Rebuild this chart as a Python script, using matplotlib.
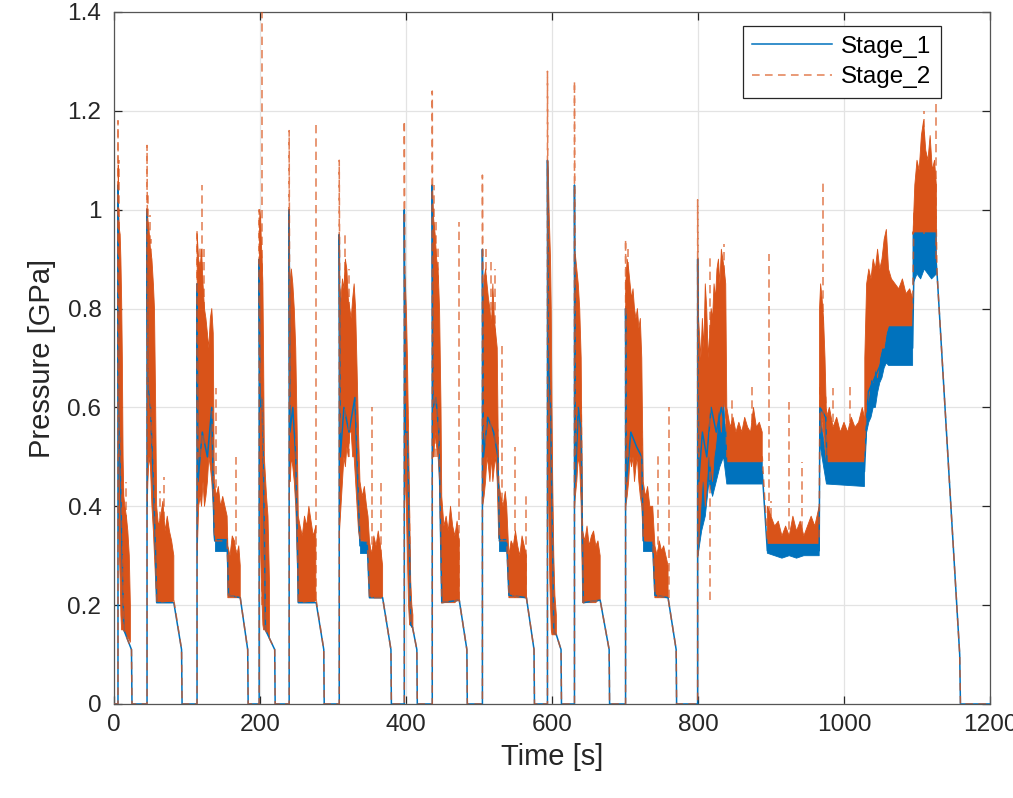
import numpy as np
import matplotlib
matplotlib.use("Agg")
import matplotlib.pyplot as plt

nan = float("nan")

# skeleton of both stages (time, Stage_1, Stage_2), one line per cycle
skel_t = [
    0, 5.5, 5.5, 6.5, 9, 12, 13.5, 24, 24.7,
    45.3, 45.3, 46.5, 50, 54, 57.5, 58.5, 82, 92.6, 93.3,
    113.8, 113.8, 115, 121, 128, 134, 137, 138, 155, 157, 173, 183.2, 183.8,
    198.9, 198.9, 200, 203, 206, 207.5, 220.2, 220.8,
    240, 240, 241, 245, 249, 251.5, 252.5, 277, 287.4, 288,
    308.6, 308.6, 310, 315, 322, 330, 334, 337, 347, 350, 368, 379.4, 380,
    397.7, 397.7, 399, 402, 405, 406.5, 409, 414.9, 415.5,
    436, 436, 437, 441, 445, 448, 449, 473, 483.4, 484,
    504.7, 504.7, 506, 512, 520, 526, 528, 538, 541, 565, 575.4, 576,
    593.8, 593.8, 595, 598, 601, 602.5, 606, 612.4, 613,
    630.8, 630.8, 632, 636, 640, 642, 643, 666, 678.3, 678.9,
    700.8, 700.8, 702, 708, 716, 723, 725, 738, 741, 759, 770.1, 770.7,
    799.5, 799.5, 801, 806, 812, 818, 825, 832, 838, 839.5, 888, 895, 966, 967,
    975, 977, 1028, 1033, 1060, 1094, 1096, 1126, 1127.5, 1158.5, 1159.5, 1200,
]
skel_p1 = [
    0, 0, 1.05, 0.6, 0.45, 0.25, 0.15, 0.11, 0,
    0, 1.0, 0.65, 0.6, 0.45, 0.28, 0.205, 0.205, 0.11, 0,
    0, 0.85, 0.45, 0.55, 0.5, 0.6, 0.35, 0.33, 0.325, 0.22, 0.215, 0.11, 0,
    0, 0.9, 0.6, 0.62, 0.35, 0.15, 0.11, 0,
    0, 1.0, 0.55, 0.6, 0.5, 0.3, 0.205, 0.205, 0.11, 0,
    0, 0.95, 0.5, 0.6, 0.55, 0.62, 0.45, 0.32, 0.32, 0.215, 0.215, 0.11, 0,
    0, 1.0, 0.55, 0.55, 0.3, 0.16, 0.155, 0.11, 0,
    0, 1.05, 0.6, 0.62, 0.55, 0.3, 0.205, 0.21, 0.11, 0,
    0, 0.92, 0.5, 0.58, 0.55, 0.5, 0.33, 0.325, 0.22, 0.215, 0.11, 0,
    0, 1.1, 0.7, 0.6, 0.3, 0.145, 0.14, 0.11, 0,
    0, 1.05, 0.45, 0.6, 0.55, 0.3, 0.205, 0.21, 0.11, 0,
    0, 0.8, 0.45, 0.55, 0.52, 0.5, 0.33, 0.32, 0.22, 0.215, 0.11, 0,
    0, 0.9, 0.45, 0.55, 0.5, 0.6, 0.55, 0.6, 0.55, 0.47, 0.47, 0.31, 0.31, 0.6,
    0.58, 0.47, 0.47, 0.63, 0.72, 0.72, 0.9, 0.9, 0.87, 0.1, 0, 0,
]
skel_p2 = [
    0, 0, 1.18, 0.7, 0.55, 0.3, 0.15, 0.11, 0,
    0, 1.13, 0.7, 0.62, 0.5, 0.3, 0.205, 0.21, 0.11, 0,
    0, 0.96, 0.5, 0.6, 0.55, 0.65, 0.4, 0.33, 0.33, 0.22, 0.215, 0.11, 0,
    0, 1.0, 0.65, 0.7, 0.4, 0.15, 0.11, 0,
    0, 1.16, 0.6, 0.65, 0.55, 0.3, 0.205, 0.21, 0.11, 0,
    0, 1.1, 0.55, 0.65, 0.62, 0.68, 0.5, 0.33, 0.33, 0.215, 0.215, 0.11, 0,
    0, 1.18, 0.6, 0.6, 0.35, 0.16, 0.155, 0.11, 0,
    0, 1.24, 0.65, 0.68, 0.6, 0.3, 0.205, 0.21, 0.11, 0,
    0, 1.07, 0.55, 0.62, 0.6, 0.55, 0.33, 0.33, 0.22, 0.215, 0.11, 0,
    0, 1.28, 0.75, 0.65, 0.35, 0.145, 0.14, 0.11, 0,
    0, 1.26, 0.5, 0.65, 0.6, 0.3, 0.205, 0.21, 0.11, 0,
    0, 0.94, 0.5, 0.6, 0.58, 0.55, 0.33, 0.33, 0.22, 0.215, 0.11, 0,
    0, 1.02, 0.5, 0.6, 0.55, 0.65, 0.6, 0.65, 0.6, 0.5, 0.5, 0.33, 0.33, 0.65,
    0.62, 0.5, 0.5, 0.7, 0.8, 0.8, 1.0, 1.0, 0.87, 0.1, 0, 0,
]

# dense oscillation bands of Stage_2 (orange), nan separates the bands
band2_t = [
    5.8, 6.5, 7.5, 8.5, 9.5, 10.5, 11.5, 12.5, 13.5, 15, 17, 19, 21, 22.5, nan,
    45.6, 46.5, 48, 50, 52, 54, 55.5, 57, 58.5, 61, 64, 67, 70, 73, 76, 79, 82, nan,
    114, 116, 118, 120, 122, 124, 126, 128, 130, 132, 134, 136, 137.5,
    140, 143, 146, 149, 152, 155, 156, 159, 162, 165, 168, 171, 173, nan,
    199.2, 200, 201, 202, 203, 204, 205, 206, 207.5, 209, 211, 213, nan,
    240.3, 241.5, 243, 245, 247, 249, 251, 252.5, 255, 258, 261, 264, 267, 270, 273, 276.5, nan,
    309, 311, 313, 315, 317, 319, 321, 323, 325, 327, 329, 331, 333, 335, 337,
    340, 343, 346, 348, 350, 353, 356, 359, 362, 365, 368, nan,
    398, 399, 400.5, 402, 403.5, 405, 406.5, 408, 409.5, nan,
    436.3, 438, 440, 442, 444, 446, 448, 449, 452, 455, 458, 461, 464, 467, 470, 473, nan,
    505, 507, 509, 511, 513, 515, 517, 519, 521, 523, 525, 527,
    530, 533, 536, 538, 541, 544, 547, 550, 553, 556, 559, 562, 565, nan,
    594, 595, 596, 597, 598, 599, 600, 601, 602.5, 604, 606, nan,
    631, 632, 634, 636, 638, 640, 642, 645, 648, 651, 654, 657, 660, 663, 666, nan,
    701, 703, 705, 707, 709, 711, 713, 715, 717, 719, 721, 723, 725,
    728, 731, 734, 738, 741, 744, 747, 750, 753, 756, 759, nan,
    800, 802, 804, 806, 808, 810, 812, 814, 816, 818, 820, 822, 824, 826, 828,
    830, 832, 834, 836, 838, 839.5, 844, 848, 852, 856, 860, 864, 868, 872,
    876, 880, 884, 888, nan,
    895, 900, 905, 910, 915, 920, 925, 930, 935, 940, 945, 950, 955, 960, 966, nan,
    966.5, 968, 970, 972, 974, 976, 980, 985, 990, 995, 1000, 1005, 1010, 1015,
    1020, 1025, 1028, nan,
    1028.5, 1031, 1034, 1037, 1040, 1043, 1046, 1049, 1052, 1055, 1058, 1061,
    1065, 1070, 1075, 1080, 1085, 1090, 1094, nan,
    1094.5, 1097, 1100, 1103, 1106, 1109, 1112, 1115, 1118, 1121, 1124, 1126.5,
]
band2_lo = [
    0.5, 0.35, 0.3, 0.25, 0.18, 0.15, 0.15, 0.15, 0.15, 0.145, 0.14, 0.135, 0.13, 0.125, nan,
    0.4, 0.45, 0.5, 0.48, 0.4, 0.35, 0.3, 0.25, 0.205, 0.205, 0.205, 0.205, 0.205, 0.205, 0.205, 0.205, 0.21, nan,
    0.3, 0.4, 0.42, 0.4, 0.45, 0.4, 0.42, 0.45, 0.5, 0.48, 0.45, 0.4, 0.335,
    0.335, 0.335, 0.335, 0.335, 0.335, 0.335, 0.215, 0.215, 0.215, 0.215, 0.215, 0.215, 0.215, nan,
    0.5, 0.4, 0.3, 0.25, 0.2, 0.16, 0.15, 0.15, 0.15, 0.145, 0.14, 0.135, nan,
    0.45, 0.45, 0.5, 0.48, 0.45, 0.4, 0.3, 0.205, 0.205, 0.205, 0.205, 0.205, 0.205, 0.205, 0.205, 0.21, nan,
    0.35, 0.4, 0.45, 0.5, 0.48, 0.52, 0.5, 0.55, 0.55, 0.5, 0.5, 0.45, 0.4, 0.35, 0.33,
    0.33, 0.33, 0.33, 0.33, 0.215, 0.215, 0.215, 0.215, 0.215, 0.215, 0.215, nan,
    0.45, 0.45, 0.4, 0.3, 0.2, 0.16, 0.16, 0.155, 0.155, nan,
    0.5, 0.5, 0.55, 0.52, 0.5, 0.45, 0.3, 0.205, 0.205, 0.205, 0.205, 0.205, 0.205, 0.205, 0.21, 0.21, nan,
    0.4, 0.42, 0.45, 0.5, 0.48, 0.45, 0.5, 0.45, 0.48, 0.5, 0.45, 0.335,
    0.335, 0.335, 0.335, 0.335, 0.215, 0.215, 0.215, 0.215, 0.215, 0.215, 0.215, 0.215, 0.215, nan,
    0.5, 0.45, 0.35, 0.25, 0.2, 0.15, 0.14, 0.14, 0.14, 0.14, 0.14, nan,
    0.4, 0.42, 0.45, 0.5, 0.48, 0.4, 0.205, 0.205, 0.205, 0.205, 0.205, 0.205, 0.205, 0.21, 0.21, nan,
    0.4, 0.42, 0.45, 0.5, 0.48, 0.5, 0.45, 0.48, 0.5, 0.45, 0.42, 0.4, 0.33,
    0.33, 0.33, 0.33, 0.33, 0.215, 0.215, 0.215, 0.215, 0.215, 0.215, 0.215, nan,
    0.3, 0.35, 0.4, 0.45, 0.45, 0.4, 0.45, 0.5, 0.5, 0.48, 0.45, 0.5, 0.52, 0.55, 0.6,
    0.58, 0.55, 0.6, 0.62, 0.58, 0.49, 0.49, 0.49, 0.49, 0.49, 0.49, 0.49, 0.49, 0.49,
    0.49, 0.49, 0.49, 0.49, nan,
    0.325, 0.325, 0.325, 0.325, 0.325, 0.325, 0.325, 0.325, 0.325, 0.325, 0.325, 0.325, 0.325, 0.325, 0.325, nan,
    0.55, 0.55, 0.58, 0.55, 0.52, 0.49, 0.49, 0.49, 0.49, 0.49, 0.49, 0.49, 0.49, 0.49,
    0.49, 0.49, 0.49, nan,
    0.55, 0.6, 0.62, 0.66, 0.65, 0.68, 0.66, 0.7, 0.72, 0.72, 0.75, 0.765,
    0.765, 0.765, 0.765, 0.765, 0.765, 0.765, 0.765, nan,
    0.955, 0.955, 0.955, 0.955, 0.955, 0.955, 0.955, 0.955, 0.955, 0.955, 0.955, 0.955,
]
band2_hi = [
    1.09, 1.0, 0.96, 0.95, 0.9, 0.82, 0.7, 0.5, 0.42, 0.4, 0.38, 0.35, 0.3, 0.2, nan,
    1.0, 0.98, 0.96, 0.92, 0.9, 0.85, 0.8, 0.62, 0.4, 0.36, 0.38, 0.41, 0.35, 0.38, 0.35, 0.33, 0.3, nan,
    0.95, 0.9, 0.88, 0.92, 0.85, 0.8, 0.78, 0.75, 0.72, 0.78, 0.8, 0.75, 0.45,
    0.42, 0.44, 0.4, 0.42, 0.4, 0.38, 0.32, 0.3, 0.34, 0.33, 0.3, 0.32, 0.28, nan,
    0.95, 1.0, 0.98, 0.93, 0.9, 0.85, 0.7, 0.5, 0.46, 0.42, 0.38, 0.25, nan,
    0.8, 0.86, 0.88, 0.85, 0.8, 0.72, 0.55, 0.38, 0.36, 0.34, 0.38, 0.36, 0.4, 0.37, 0.34, 0.36, nan,
    0.85, 0.82, 0.86, 0.84, 0.9, 0.88, 0.82, 0.8, 0.78, 0.82, 0.85, 0.8, 0.68, 0.55, 0.45,
    0.42, 0.44, 0.4, 0.38, 0.33, 0.3, 0.34, 0.32, 0.35, 0.32, 0.28, nan,
    0.88, 0.86, 0.8, 0.7, 0.55, 0.4, 0.25, 0.2, 0.18, nan,
    1.04, 0.98, 0.95, 0.9, 0.88, 0.8, 0.6, 0.42, 0.36, 0.38, 0.35, 0.4, 0.36, 0.34, 0.37, 0.33, nan,
    0.8, 0.86, 0.88, 0.85, 0.82, 0.8, 0.76, 0.85, 0.78, 0.75, 0.72, 0.45,
    0.42, 0.4, 0.43, 0.4, 0.3, 0.33, 0.32, 0.35, 0.32, 0.3, 0.34, 0.32, 0.3, nan,
    1.1, 1.08, 1.0, 0.95, 0.9, 0.8, 0.6, 0.45, 0.3, 0.22, 0.18, nan,
    0.88, 0.91, 0.88, 0.85, 0.8, 0.7, 0.35, 0.33, 0.36, 0.32, 0.34, 0.35, 0.32, 0.33, 0.3, nan,
    0.85, 0.9, 0.88, 0.85, 0.82, 0.84, 0.8, 0.78, 0.8, 0.76, 0.78, 0.7, 0.45,
    0.42, 0.44, 0.4, 0.4, 0.32, 0.3, 0.33, 0.31, 0.32, 0.3, 0.28, nan,
    0.8, 0.75, 0.7, 0.78, 0.72, 0.85, 0.8, 0.7, 0.75, 0.8, 0.78, 0.85, 0.82, 0.88, 0.9,
    0.85, 0.92, 0.9, 0.88, 0.85, 0.6, 0.56, 0.58, 0.55, 0.57, 0.55, 0.58, 0.56, 0.55,
    0.6, 0.56, 0.57, 0.55, nan,
    0.4, 0.38, 0.36, 0.37, 0.34, 0.36, 0.34, 0.38, 0.35, 0.37, 0.34, 0.36, 0.38, 0.36, 0.4, nan,
    0.8, 0.85, 0.82, 0.78, 0.7, 0.58, 0.6, 0.56, 0.58, 0.55, 0.57, 0.55, 0.58, 0.56,
    0.57, 0.6, 0.58, nan,
    0.7, 0.85, 0.88, 0.86, 0.9, 0.88, 0.92, 0.88, 0.9, 0.94, 0.96, 0.88,
    0.86, 0.85, 0.84, 0.86, 0.83, 0.84, 0.82, nan,
    0.95, 1.05, 1.1, 1.08, 1.15, 1.18, 1.12, 1.1, 1.15, 1.08, 1.1, 1.05,
]

# Stage_1 (blue) bands that show below the orange ones
band1_t = [
    138, 155, nan, 337, 348, nan, 528, 538, nan, 725, 738, nan,
    800, 805, 810, 815, 820, 825, 830, 835, 839.5, 888, nan,
    895, 905, 915, 925, 935, 945, 955, 966, nan,
    966.5, 976, 1028, nan,
    1028.5, 1031, 1034, 1037, 1040, 1043, 1046, 1049, 1052, 1055, 1058, 1061, 1094, nan,
    1094.5, 1100, 1105, 1110, 1115, 1120, 1126.5,
]
band1_lo = [
    0.31, 0.31, nan, 0.305, 0.305, nan, 0.31, 0.31, nan, 0.31, 0.31, nan,
    0.3, 0.35, 0.38, 0.45, 0.42, 0.45, 0.48, 0.5, 0.445, 0.445, nan,
    0.305, 0.3, 0.295, 0.3, 0.295, 0.3, 0.3, 0.3, nan,
    0.53, 0.445, 0.44, nan,
    0.5, 0.55, 0.57, 0.58, 0.6, 0.6, 0.63, 0.65, 0.66, 0.68, 0.69, 0.685, 0.685, nan,
    0.85, 0.87, 0.86, 0.88, 0.87, 0.86, 0.87,
]
band1_hi = [
    0.335, 0.335, nan, 0.33, 0.33, nan, 0.335, 0.335, nan, 0.33, 0.33, nan,
    0.5, 0.55, 0.6, 0.62, 0.6, 0.62, 0.65, 0.62, 0.49, 0.49, nan,
    0.325, 0.325, 0.325, 0.325, 0.325, 0.325, 0.325, 0.325, nan,
    0.6, 0.49, 0.49, nan,
    0.55, 0.6, 0.62, 0.66, 0.65, 0.68, 0.66, 0.7, 0.72, 0.72, 0.75, 0.765, 0.765, nan,
    0.955, 0.955, 0.955, 0.955, 0.955, 0.955, 0.955,
]

# isolated Stage_2 peaks
spike_t = [6.5, 12.5, 16, 47, 49, 51, 63, 68, 118, 121, 124, 140, 167, 202.5,
           276.5, 316, 322, 354, 366, 438, 441, 444, 472, 510, 516, 522, 531,
           550, 565, 704, 745, 760, 816, 835, 846, 874, 897, 900, 925, 943, 971,
           985, 1008, 1109, 1126.5]
spike_lo = [0.5, 0.15, 0.15, 0.5, 0.5, 0.5, 0.21, 0.21, 0.5, 0.5, 0.5, 0.33, 0.215,
            0.2, 0.21, 0.5, 0.5, 0.215, 0.215, 0.5, 0.5, 0.5, 0.21, 0.5, 0.5, 0.5,
            0.33, 0.215, 0.215, 0.5, 0.215, 0.215, 0.21, 0.6, 0.49, 0.49, 0.33,
            0.325, 0.325, 0.325, 0.55, 0.49, 0.49, 0.95, 0.9]
spike_hi = [1.1, 0.44, 0.45, 1.03, 0.99, 0.94, 0.43, 0.46, 0.93, 1.05, 0.92, 0.64,
            0.5, 1.4, 1.18, 0.95, 0.88, 0.6, 0.45, 1.05, 0.98, 0.93, 0.975, 0.92,
            0.9, 0.88, 0.73, 0.52, 0.42, 0.92, 0.51, 0.6, 0.91, 0.93, 0.62, 0.65,
            0.91, 0.41, 0.61, 0.49, 1.06, 0.64, 0.65, 1.2, 1.3]

x_ticks = [0, 200, 400, 600, 800, 1000, 1200]
y_ticks = [0, 0.2, 0.4, 0.6, 0.8, 1.0, 1.2, 1.4]
y_tick_labels = ["0", "0.2", "0.4", "0.6", "0.8", "1", "1.2", "1.4"]

BLUE = "#0072BD"
ORANGE = "#D95319"

plt.rcParams["font.family"] = ["Liberation Sans", "DejaVu Sans"]

fig = plt.figure(figsize=(10.13, 7.98), dpi=100)
ax = fig.add_axes([0.1125, 0.1178, 0.8648, 0.8672])

ax.fill_between(band1_t, band1_lo, band1_hi, color=BLUE, lw=0.6, zorder=2)
ax.fill_between(band2_t, band2_lo, band2_hi, color=ORANGE, lw=0.6, zorder=3)
ax.plot(skel_t, skel_p1, color=BLUE, lw=1.1, label="Stage_1", zorder=4)
ax.plot(skel_t, skel_p2, color=ORANGE, lw=1.1, alpha=0.75,
        dashes=(5, 3.5), label="Stage_2", zorder=5)
ax.vlines(spike_t, spike_lo, spike_hi, colors=ORANGE, lw=1.2, alpha=0.7,
          linestyles=(0, (5, 3)), zorder=5)

ax.set_xlim(0, 1200)
ax.set_ylim(0, 1.4)
ax.set_xticks(x_ticks)
ax.set_yticks(y_ticks)
ax.set_yticklabels(y_tick_labels)
ax.grid(True, color="#E3E3E3", lw=0.9)
ax.set_axisbelow(True)
ax.tick_params(direction="in", length=6, width=0.9, colors="#262626",
               labelsize=17.6, top=True, right=True)
ax.tick_params(axis="y", pad=9)
ax.tick_params(axis="x", pad=7)
for sp in ax.spines.values():
    sp.set_color("#555555")
    sp.set_linewidth(0.9)

ax.set_xlabel("Time [s]", fontsize=21, color="#262626", labelpad=5)
ax.set_ylabel("Pressure [GPa]", fontsize=21, color="#262626", labelpad=8)

leg = ax.legend(loc="upper right", bbox_to_anchor=(0.944, 0.98), fontsize=17.5,
                frameon=True, fancybox=False, framealpha=1, edgecolor="#262626",
                borderaxespad=0, handlelength=3.3, handletextpad=0.35,
                borderpad=0.4, labelspacing=0.35)
leg.get_frame().set_linewidth(0.9)
leg.set_zorder(10)

fig.savefig("out.png", dpi=100)
